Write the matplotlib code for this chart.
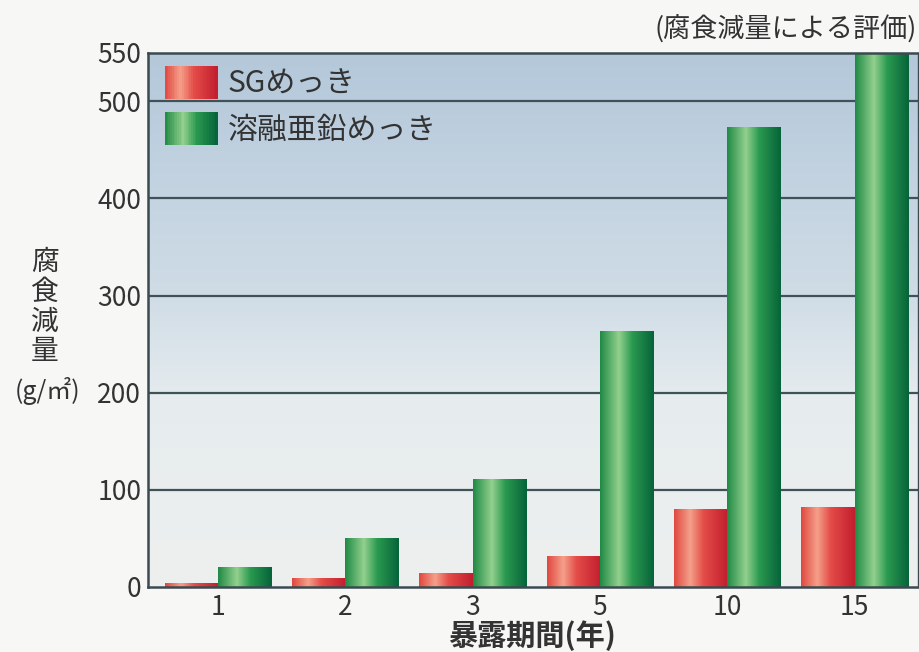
import numpy as np
import matplotlib
matplotlib.use("Agg")
import matplotlib.pyplot as plt
from matplotlib.colors import LinearSegmentedColormap
from matplotlib.patches import Rectangle
from matplotlib.legend_handler import HandlerBase

plt.rcParams['font.family'] = ['Noto Sans CJK JP', 'DejaVu Sans']

# ---- data ----
periods = ['1', '2', '3', '5', '10', '15']
sg_values = [4, 9, 14, 31, 80, 82]
zinc_values = [20, 50, 111, 263, 473, 560]
series_names = ['SGめっき', '溶融亜鉛めっき']
y_ticks = [0, 100, 200, 300, 400, 500, 550]
ylabel_text = '腐\n食\n減\n量'
ylabel_unit = '(g/㎡)'
xlabel_text = '暴露期間(年)'
note_text = '(腐食減量による評価)'

red_cmap = LinearSegmentedColormap.from_list(
    'red', [(0, '#e0473f'), (0.3, '#f4a08a'), (0.55, '#e44c48'), (1, '#c11e2e')])
green_cmap = LinearSegmentedColormap.from_list(
    'green', [(0, '#1f8a45'), (0.35, '#93d08e'), (0.6, '#2a9a50'), (1, '#06633a')])

fig = plt.figure(figsize=(9.2, 6.52), dpi=100)
fig.patch.set_facecolor('#f7f7f5')
ax = fig.add_axes([0.161, 0.100, 0.837, 0.819])
ax.set_xlim(-0.55, 5.5)
ax.set_ylim(0, 550)

# background gradient
bg = LinearSegmentedColormap.from_list(
    'bg', [(0, '#eef0ee'), (0.35, '#e6ecef'), (0.55, '#cfdce6'), (1, '#b4c8da')])
ax.imshow(np.linspace(0, 1, 256).reshape(-1, 1), cmap=bg, aspect='auto',
          extent=[-0.55, 5.5, 0, 550], origin='lower', zorder=0)

x = np.arange(len(periods))
w = 0.42
grad = np.linspace(0, 1, 256).reshape(1, -1)


def gradient_bars(xpos, vals, cmap):
    bars = ax.bar(xpos, vals, width=w, facecolor='none', edgecolor='none', zorder=3)
    for b in bars:
        x0, y0 = b.get_x(), b.get_y()
        im = ax.imshow(grad, cmap=cmap, aspect='auto',
                       extent=[x0, x0 + b.get_width(), y0, y0 + b.get_height()],
                       zorder=3)
        im.set_clip_path(b)
        im.set_clip_box(ax.bbox)
    return bars


for gy in y_ticks[1:-1]:
    ax.axhline(gy, color='#3e5258', lw=1.6, zorder=1)

gradient_bars(x - w / 2, sg_values, red_cmap)
gradient_bars(x + w / 2, zinc_values, green_cmap)

ax.set_xlim(-0.55, 5.5)
ax.set_ylim(0, 550)

for s in ['left', 'bottom', 'top', 'right']:
    ax.spines[s].set_color('#3a4a50')
    ax.spines[s].set_linewidth(1.8)
    ax.spines[s].set_zorder(5)
ax.spines['right'].set_linewidth(1.0)

ax.set_yticks(y_ticks)
ax.set_yticklabels([str(t) for t in y_ticks], fontsize=19, color='#333333')
ax.set_xticks(x)
ax.set_xticklabels(periods, fontsize=19, color='#333333')
ax.tick_params(length=0, pad=5)


class HandlerGradient(HandlerBase):
    def __init__(self, cmap):
        super().__init__()
        self.cmap = cmap

    def create_artists(self, legend, orig_handle, xdescent, ydescent,
                       width, height, fontsize, trans):
        n = 30
        arts = []
        for i in range(n):
            r = Rectangle((-xdescent + width * i / n, -ydescent), width / n + 0.3,
                          height, facecolor=self.cmap((i + 0.5) / n),
                          edgecolor='none', transform=trans)
            arts.append(r)
        return arts


h1 = Rectangle((0, 0), 1, 1)
h2 = Rectangle((0, 0), 1, 1)
leg = ax.legend([h1, h2], series_names, loc='upper left',
                bbox_to_anchor=(-0.013, 1.025), frameon=False, fontsize=21.5,
                handler_map={h1: HandlerGradient(red_cmap), h2: HandlerGradient(green_cmap)},
                handlelength=1.75, handleheight=1.3, handletextpad=0.35,
                labelspacing=0.42, labelcolor='#333333')
leg.set_zorder(6)

fig.text(0.049, 0.53, ylabel_text, fontsize=20, color='#333333',
         ha='center', va='center', linespacing=1.0)
fig.text(0.052, 0.40, ylabel_unit, fontsize=18, color='#333333',
         ha='center', va='center')
fig.text(0.578, 0.025, xlabel_text, fontsize=21, color='#333333',
         ha='center', va='center', fontweight='bold')
fig.text(0.997, 0.955, note_text, fontsize=19.5, color='#333333',
         ha='right', va='center')

fig.savefig('out.png', dpi=100, facecolor=fig.get_facecolor())
